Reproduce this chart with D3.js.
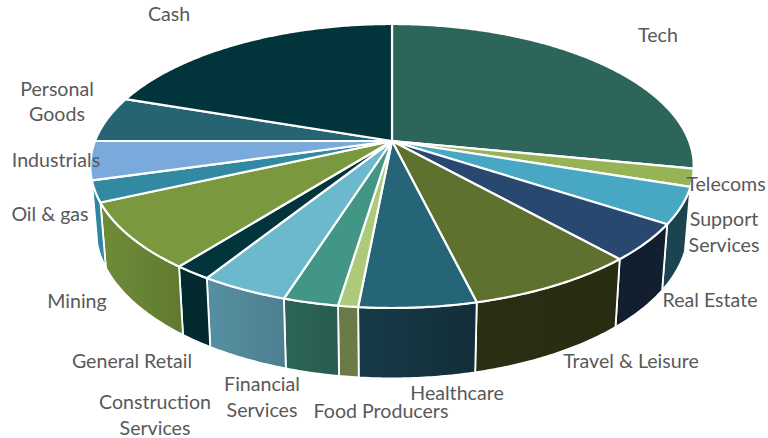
<!DOCTYPE html>
<html>
<head>
<meta charset="utf-8">
<script src="https://cdn.jsdelivr.net/npm/d3@7"></script>
<style>
  html, body { margin: 0; padding: 0; background: #fff; }
  svg { display: block; }
  text { font-family: Lato, "Open Sans", sans-serif; font-size: 19.6px; fill: #595959; text-anchor: middle; }
</style>
</head>
<body>
<svg id="chart" width="768" height="438"></svg>
<script>
// Portfolio weights by sector, in percent, clockwise from twelve o'clock
const sectors = ["Tech", "Telecoms", "Support Services", "Real Estate", "Travel & Leisure", "Healthcare",
  "Food Producers", "Financial Services", "Construction Services", "General Retail", "Mining",
  "Oil & gas", "Industrials", "Personal Goods", "Cash"];
const weights = [28.1, 2.0, 4.1, 4.2, 7.8, 5.3, 0.9, 2.5, 4, 1.7, 7.6, 2.4, 4.4, 5.2, 19.8];
const topColors = ["#2d655b", "#96b455", "#48a7c2", "#284870", "#5f712e", "#256577", "#adc97a", "#419685",
  "#6cb8cd", "#02343b", "#7a983e", "#318aa1", "#7aaadb", "#266474", "#02343b"];
// Side wall shading, left and right stops; null where the wall faces away from the viewer
const wallLeft = [null, null, "#1b4450", "#111f2f", "#2a2f13", "#173a47", "#6a7b48", "#2c6558",
  "#5690a2", "#022a2f", "#6f8c39", "#2e86a0", null, null, null];
const wallRight = [null, null, "#1b4450", "#111f2f", "#282d12", "#122e3a", "#6a7b48", "#275c50",
  "#4d7f91", "#022a2f", "#5f7a2f", "#2e86a0", null, null, null];

// Label lines with their centre and baseline
const labelLines = [
  ["Cash", 169, 21], ["Tech", 658, 42], ["Personal", 57, 96], ["Goods", 57, 121],
  ["Industrials", 56, 167], ["Oil & gas", 50, 221], ["Mining", 77, 308], ["General Retail", 132, 368],
  ["Construction", 155, 409], ["Services", 155, 435], ["Financial", 262, 391], ["Services", 262, 417],
  ["Food Producers", 381, 418], ["Healthcare", 457, 400], ["Travel & Leisure", 631, 368],
  ["Real Estate", 710, 307], ["Support", 724, 226], ["Services", 724, 252], ["Telecoms", 726, 191]
];

// Perspective disc: k is the foreshortening of the tilted circle
const k = 0.176;
const xTop = d3.scaleLinear().domain([-1, 1]).range([392 - 297, 392 + 297]);
const yTop = d3.scaleLinear().domain([-1, 1]).range([141 - 137.6, 141 + 137.6]);
const xBase = d3.scaleLinear().domain([-1, 1]).range([392 - 291.5, 392 + 291.5]);
const yBase = d3.scaleLinear().domain([-1, 1]).range([203 - 144.5, 203 + 144.5]);

const project = (xs, ys, a) => {
  const u = Math.sin(a), v = -Math.cos(a), w = 1 - k * v;
  return [xs(u / w), ys(v / w)];
};
const sweep = (a0, a1) => {
  const n = Math.max(2, Math.ceil((a1 - a0) / 0.01));
  return d3.range(n + 1).map(i => a0 + (a1 - a0) * i / n);
};

const svg = d3.select("#chart");
const defs = svg.append("defs");
const line = d3.line();
const slices = d3.pie().sort(null).value(d => d)(weights);

// Side walls go down first so the top face covers their upper edge
const walls = slices.map((s, i) => ({ s, i })).filter(d => wallLeft[d.i]);
walls.forEach(({ i }) => {
  const g = defs.append("linearGradient").attr("id", `wall${i}`);
  g.append("stop").attr("offset", 0).attr("stop-color", wallLeft[i]);
  g.append("stop").attr("offset", 1).attr("stop-color", wallRight[i]);
});
svg.append("g").selectAll("path").data(walls).join("path")
  .attr("d", ({ s }) => {
    const angles = sweep(s.startAngle, s.endAngle);
    const pts = angles.map(a => project(xTop, yTop, a))
      .concat(angles.slice().reverse().map(a => project(xBase, yBase, a)));
    return line(pts) + "Z";
  })
  .attr("fill", d => `url(#wall${d.i})`)
  .attr("stroke", "#fff").attr("stroke-width", 1.8).attr("stroke-linejoin", "round");

// Top face
svg.append("g").selectAll("path").data(slices).join("path")
  .attr("d", s => line([[xTop(0), yTop(0)]].concat(sweep(s.startAngle, s.endAngle).map(a => project(xTop, yTop, a)))) + "Z")
  .attr("fill", (s, i) => topColors[i])
  .attr("stroke", "#fff").attr("stroke-width", 2.2).attr("stroke-linejoin", "round");

svg.append("g").selectAll("text").data(labelLines).join("text")
  .attr("x", d => d[1]).attr("y", d => d[2]).text(d => d[0]);
</script>
</body>
</html>
